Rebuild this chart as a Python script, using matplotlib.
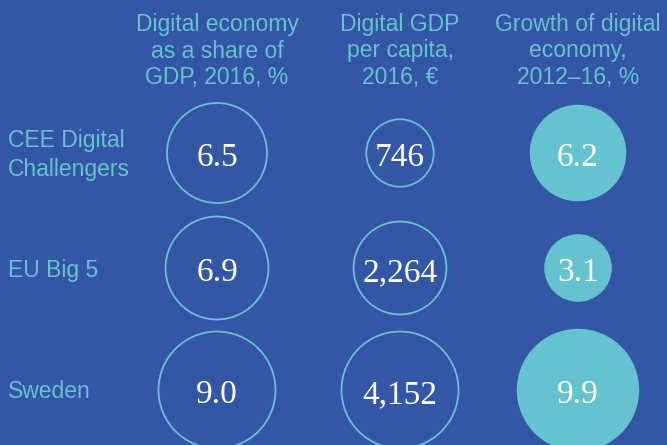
import numpy as np
import matplotlib.pyplot as plt
from matplotlib.patches import Circle

# data
groups = ["CEE Digital\nChallengers", "EU Big 5", "Sweden"]
headers = ["Digital economy\nas a share of\nGDP, 2016, %",
           "Digital GDP\nper capita,\n2016, \u20ac",
           "Growth of digital\neconomy,\n2012\u201316, %"]
share_gdp = [6.5, 6.9, 9.0]
gdp_per_capita = [746, 2264, 4152]
growth = [6.2, 3.1, 9.9]
labels = [["6.5", "6.9", "9.0"],
          ["746", "2,264", "4,152"],
          ["6.2", "3.1", "9.9"]]

bg = "#3356a5"
teal = "#64c3cf"

# layout (pixels)
col_x = [217, 400, 578]
row_y = [153, 268, 390]
# radius range per column (min value -> r_min, max value -> r_max), area scale
r_range = [(50, 58.5), (33.7, 58.5), (33.8, 61.2)]
filled = [False, False, True]

fig = plt.figure(figsize=(6.67, 4.45), dpi=100, facecolor=bg)
ax = fig.add_axes([0, 0, 1, 1])
ax.set_facecolor(bg)
ax.set_xlim(0, 667)
ax.set_ylim(445, 0)
ax.axis("off")

sans = dict(family=["Liberation Sans", "DejaVu Sans"], color=teal)
serif = dict(family=["Liberation Serif", "DejaVu Serif"], color="white")

for j, h in enumerate(headers):
    ax.text(col_x[j], 51, h, ha="center", va="center", fontsize=16.5,
            linespacing=1.17, **sans)

for i, g in enumerate(groups):
    ax.text(8, row_y[i] + 2, g, ha="left", va="center", fontsize=16.5,
            linespacing=1.3, **sans)

for j, vals in enumerate([share_gdp, gdp_per_capita, growth]):
    vals = np.array(vals, dtype=float)
    rmin, rmax = r_range[j]
    area = np.interp(vals, [vals.min(), vals.max()], [rmin**2, rmax**2])
    radii = np.sqrt(area)
    for i, r in enumerate(radii):
        if filled[j]:
            c = Circle((col_x[j], row_y[i]), r, facecolor=teal, edgecolor="none")
        else:
            c = Circle((col_x[j], row_y[i]), r, facecolor="none",
                       edgecolor=teal, linewidth=1.3)
        ax.add_patch(c)
        ax.text(col_x[j], row_y[i] + 5, labels[j][i], ha="center", va="center",
                fontsize=24, **serif)

fig.savefig("out.png", dpi=100, facecolor=bg)
